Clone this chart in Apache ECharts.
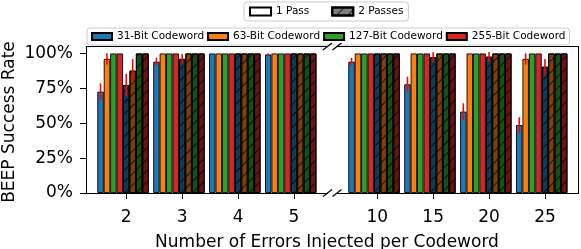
<!DOCTYPE html>
<html><head><meta charset="utf-8">
<script src="https://cdn.jsdelivr.net/npm/echarts@6/dist/echarts.min.js"></script>
<style>html,body{margin:0;padding:0;background:#fff}#c{width:581px;height:249px}</style>
</head><body><div id="c"></div>
<script>
// ---- data ----
const leftCats = ['2', '3', '4', '5'];
const rightCats = ['10', '15', '20', '25'];
const codewords = ['31-Bit Codeword', '63-Bit Codeword', '127-Bit Codeword', '255-Bit Codeword'];
const passNames = ['1 Pass', '2 Passes'];
const yTicks = [0, 25, 50, 75, 100];
const xTitle = 'Number of Errors Injected per Codeword';
const yTitle = 'BEEP Success Rate';
// values over error counts 2,3,4,5,10,15,20,25
const onePass31 = [72.6, 94.1, 100, 99.3, 94.1, 77.9, 58.3, 48.7];
const onePass31Err = [6, 2.8, 0, 0.8, 2.7, 5.4, 6, 5.6];
const onePass63 = [96.1, 100, 100, 100, 100, 100, 100, 96.1];
const onePass63Err = [4, 0, 0, 0, 0, 0, 0, 4];
const onePass127 = [100, 100, 100, 100, 100, 100, 100, 100];
const onePass127Err = [0, 0, 0, 0, 0, 0, 0, 0];
const onePass255 = [100, 100, 100, 100, 100, 100, 100, 100];
const onePass255Err = [0, 0, 0, 0, 0, 0, 0, 0];
const twoPass31 = [77.4, 96.1, 100, 100, 100, 97.3, 97.7, 90.5];
const twoPass31Err = [8, 3.5, 0, 0, 0, 3.6, 3.4, 5.5];
const twoPass63 = [87.7, 100, 100, 100, 100, 100, 100, 100];
const twoPass63Err = [8.4, 0, 0, 0, 0, 0, 0, 0];
const twoPass127 = [100, 100, 100, 100, 100, 100, 100, 100];
const twoPass127Err = [0, 0, 0, 0, 0, 0, 0, 0];
const twoPass255 = [100, 100, 100, 100, 100, 100, 100, 100];
const twoPass255Err = [0, 0, 0, 0, 0, 0, 0, 0];

// ---- styling / layout ----
const FONT = 'DejaVu Sans';
const lightColors = ['#1f77b4', '#ff7f0e', '#2ca02c', '#d62728'];
const darkColors = ['#0f3b5a', '#7f3f07', '#165016', '#6b1314'];
const hatch = { symbol: 'rect', symbolSize: 1, dashArrayX: [1, 0], dashArrayY: [1, 7], rotation: -Math.PI / 4, color: 'rgba(0,0,0,0.75)' };
const BAR_W = 0.115;
const GRID_TOP = 46.5, GRID_H = 146.5, GRID_W = 241.5;
const panels = [
  { left: 86, cats: leftCats, off: 0 },
  { left: 337, cats: rightCats, off: 4 }
];
const sets = [onePass31, onePass63, onePass127, onePass255, twoPass31, twoPass63, twoPass127, twoPass255];
const errs = [onePass31Err, onePass63Err, onePass127Err, onePass255Err, twoPass31Err, twoPass63Err, twoPass127Err, twoPass255Err];

const grid = [], xAxis = [], yAxis = [], series = [];
panels.forEach((p, gi) => {
  grid.push({ left: p.left, top: GRID_TOP, width: GRID_W, height: GRID_H });
  xAxis.push({
    type: 'value', gridIndex: gi, min: -0.72, max: 3.6, position: 'bottom',
    axisLine: { show: true, onZero: false, lineStyle: { color: '#000', width: 1 } },
    axisTick: { show: true, customValues: [0, 1, 2, 3], length: 6, lineStyle: { color: '#000', width: 1 } },
    axisLabel: { show: true, customValues: [0, 1, 2, 3], formatter: v => p.cats[Math.round(v)], margin: 16, fontFamily: FONT, fontSize: 17, color: '#000' },
    splitLine: { show: false }
  });
  xAxis.push({
    type: 'value', gridIndex: gi, min: -0.72, max: 3.6, position: 'top',
    axisLine: { show: true, onZero: false, lineStyle: { color: '#000', width: 1 } },
    axisTick: { show: false }, axisLabel: { show: false }, splitLine: { show: false }
  });
  yAxis.push({
    type: 'value', gridIndex: gi, min: 0, max: 105, position: gi === 0 ? 'left' : 'right',
    axisLine: { show: true, onZero: false, lineStyle: { color: '#000', width: 1 } },
    axisTick: { show: gi === 0, customValues: yTicks, length: 6, lineStyle: { color: '#000', width: 1 } },
    axisLabel: { show: gi === 0, customValues: yTicks, formatter: v => v + '%', margin: 13, padding: [4, 0, 0, 0], fontFamily: FONT, fontSize: 17, color: '#000' },
    splitLine: { show: false }
  });
  sets.forEach((arr, k) => {
    const dark = k >= 4;
    series.push({
      type: 'bar', name: codewords[k % 4], xAxisIndex: gi * 2, yAxisIndex: gi,
      barWidth: (BAR_W * 100) + '%', barGap: 0,
      data: arr.slice(p.off, p.off + 4).map((v, i) => [i, v]),
      itemStyle: Object.assign({ color: dark ? darkColors[k % 4] : lightColors[k % 4], borderColor: '#000', borderWidth: 0.9 }, dark ? { decal: hatch } : {}),
      emphasis: { disabled: true }, z: 2
    });
  });
  // empty slot so that the 5th bar of each group sits on the tick
  series.push({
    type: 'bar', name: '_pad', xAxisIndex: gi * 2, yAxisIndex: gi,
    barWidth: (BAR_W * 100) + '%', barGap: 0,
    data: [0, 1, 2, 3].map(i => [i, '-']), itemStyle: { color: 'transparent' }, silent: true
  });
  const errData = [];
  sets.forEach((arr, k) => {
    for (let i = 0; i < 4; i++) {
      const e = errs[k][p.off + i];
      if (e > 0) errData.push([i, k, arr[p.off + i], e]);
    }
  });
  series.push({
    type: 'custom', xAxisIndex: gi * 2, yAxisIndex: gi, z: 5, silent: true,
    encode: { x: 0, y: 2 },
    data: errData,
    renderItem: (params, api) => {
      const xi = api.value(0), k = api.value(1), v = api.value(2), e = api.value(3);
      const c = api.coord([xi, v]);
      const bw = api.size([BAR_W, 0])[0];
      const cx = c[0] + (k - 4) * bw;
      const t = api.coord([xi, v + e])[1];
      const b = api.coord([xi, v - e])[1];
      return { type: 'line', shape: { x1: cx, y1: t, x2: cx, y2: b }, style: { stroke: '#ff0000', lineWidth: 1.6 } };
    }
  });
});
// hidden grid holding legend-only series
grid.push({ left: 0, top: 0, width: 1, height: 1, show: false });
xAxis.push({ type: 'category', gridIndex: 2, show: false, data: ['a'] });
yAxis.push({ type: 'value', gridIndex: 2, show: false });
series.push({ type: 'bar', name: passNames[0], xAxisIndex: 4, yAxisIndex: 2, data: [], itemStyle: { color: '#ffffff', borderColor: '#000', borderWidth: 0.9 } });
series.push({ type: 'bar', name: passNames[1], xAxisIndex: 4, yAxisIndex: 2, data: [], itemStyle: { color: '#7f7f7f', borderColor: '#000', borderWidth: 0.9, decal: hatch } });

// break marks
const brk = [];
[GRID_TOP, GRID_TOP + GRID_H].forEach(y => {
  [panels[0].left + GRID_W, panels[1].left].forEach(x => {
    brk.push({ type: 'line', shape: { x1: x - 4.5, y1: y + 3.5, x2: x + 4.5, y2: y - 3.5 }, style: { stroke: '#000', lineWidth: 1.2 }, z: 10 });
  });
});

const legendText = { fontFamily: FONT, fontSize: 10.5, color: '#000' };
const option = {
  animation: false,
  backgroundColor: '#fff',
  grid, xAxis, yAxis, series,
  legend: [
    { data: passNames, left: 244, top: 2, icon: 'rect', itemWidth: 21, itemHeight: 8, itemGap: 22, padding: [4, 5],
      borderColor: '#cccccc', borderWidth: 1, borderRadius: 3, backgroundColor: '#fff', textStyle: legendText, selectedMode: false },
    { data: codewords, left: 87, top: 28, icon: 'rect', itemWidth: 20, itemHeight: 7, itemGap: 3, padding: [3, 4],
      borderColor: '#cccccc', borderWidth: 1, borderRadius: 3, backgroundColor: '#fff', textStyle: legendText, selectedMode: false }
  ],
  graphic: brk.concat([
    { type: 'text', x: 327, y: 243, style: { text: xTitle, align: 'center', verticalAlign: 'middle', font: '17px "DejaVu Sans"', fill: '#000' } },
    { type: 'text', x: 10, y: 122, rotation: Math.PI / 2, style: { text: yTitle, align: 'center', verticalAlign: 'middle', font: '17px "DejaVu Sans"', fill: '#000' } }
  ])
};
const chart = echarts.init(document.getElementById('c'), null, { renderer: 'canvas' });
chart.setOption(option);
</script>
</body></html>
